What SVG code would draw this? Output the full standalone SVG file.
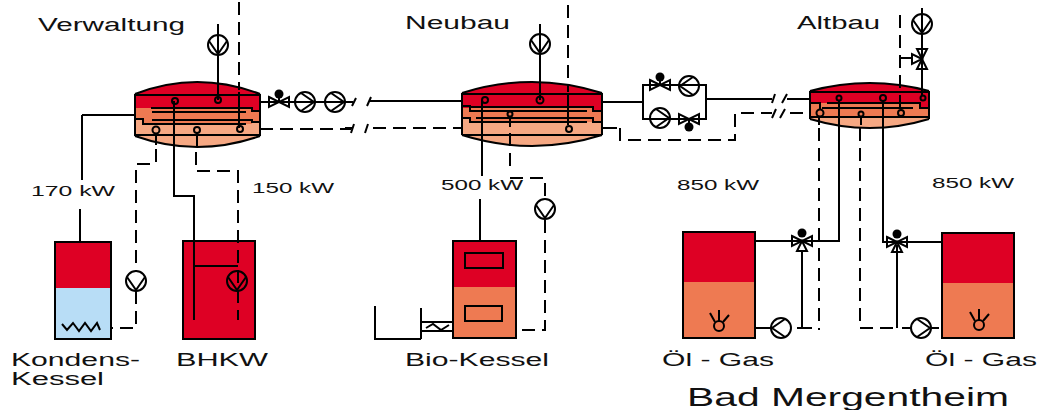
<svg xmlns="http://www.w3.org/2000/svg" xmlns:xlink="http://www.w3.org/1999/xlink" width="1044" height="410" viewBox="0 0 1044 410">
<style>
.o{fill:none;stroke:#000;stroke-width:2}
.d{fill:none;stroke:#000;stroke-width:2;stroke-dasharray:13 7}
.t{font-family:"Liberation Sans",Arial,sans-serif;fill:#111}
.red{fill:#de0024}
.mid{fill:#ee7a52}
.lt{fill:#f6a883}
.blue{fill:#b8ddf6}
.box{fill:none;stroke:#000;stroke-width:2}
</style>
<defs>
<g id="pd"><circle r="10" class="o"/><path d="M-9-4L0 9L9-4" class="o"/></g>
<g id="pr"><circle r="10" class="o"/><path d="M-4-9L9 0L-4 9" class="o"/></g>
<g id="pl"><circle r="10" class="o"/><path d="M4-9L-9 0L4 9" class="o"/></g>
<g id="vh"><path d="M-10-5L10 5V-5L-10 5Z" class="o"/><path d="M0 0V-8" class="o"/><circle cy="-8" r="4.500" fill="#000"/></g>
<g id="v3"><path d="M-10-5L10 5V-5L-10 5Z" class="o"/><path d="M0 0L-5 10H5Z" class="o"/><circle cy="-8" r="4.500" fill="#000"/></g>
<g id="fl"><circle r="5" class="o"/><path d="M0-16V-5M-9-13L-4-4M10-11L4-4" class="o"/></g>
</defs>

<g id="v1">
<path class="lt" d="M135 94Q197 70 260 94V136Q197 158 135 136Z"/>
<path class="mid" d="M135 108H252V112H260V122H252V124H143V120H135Z"/>
<path class="red" d="M135 94Q197 70 260 94V112H252V108H135Z"/>
<path class="o" d="M135 94Q197 70 260 94M135 136Q197 158 260 136M135 94V136M260 94V136"/>
<path class="o" d="M135 95H260M151 108H252V111H260M152 112H246M152 120H252V122H260M135 119H143V124H246M135 135H260"/>
<circle class="o" cx="175" cy="101" r="3"/>
<circle class="o" cx="218" cy="100" r="3"/>
<circle class="o" cx="156" cy="130" r="3.500"/>
<circle class="o" cx="197" cy="130" r="3"/>
<circle class="o" cx="240" cy="129" r="3"/>
</g>
<g id="v2">
<path class="lt" d="M462 93Q532 71 602 93V135Q532 157 462 135Z"/>
<path class="mid" d="M462 108H593V112H602V122H470V119H462Z"/>
<path class="red" d="M462 93Q532 71 602 93V112H593V108H462Z"/>
<path class="o" d="M462 93Q532 71 602 93M462 135Q532 157 602 135M462 93V135M602 93V135"/>
<path class="o" d="M462 94H602M470 107H593V111H602M462 106H470V111H587M476 118H593V122H602M462 118H470V122H587M462 135H602"/>
<circle class="o" cx="485" cy="100" r="3"/>
<circle class="o" cx="540" cy="100" r="3.500"/>
<circle class="o" cx="510" cy="114" r="2.500"/>
<circle class="o" cx="569" cy="129" r="3"/>
</g>
<g id="v3n">
<path class="lt" d="M810 91Q870 75 929 91V119Q870 137 810 119Z"/>
<path class="mid" d="M810 103H920V108H929V117H810Z"/>
<path class="red" d="M810 91Q870 75 929 91V108H920V103H810Z"/>
<path class="o" d="M810 91Q870 75 929 91M810 119Q870 137 929 119M810 91V119M929 91V119"/>
<path class="o" d="M810 92H929M827 103H920V108H929M810 103H820V110M822 108H913M810 117H929"/>
<circle class="o" cx="839" cy="98" r="2.500"/>
<circle class="o" cx="883" cy="98" r="3"/>
<circle class="o" cx="923" cy="98" r="2.500"/>
<circle class="o" cx="820" cy="113" r="3.500"/>
<circle class="o" cx="861" cy="114" r="2.500"/>
<circle class="o" cx="901" cy="113" r="3"/>
</g>

<g id="k1">
<path class="red" d="M55 242H111V288H55Z"/>
<path class="blue" d="M55 288H111V339H55Z"/>
<rect class="box" x="55" y="242" width="56" height="97"/>
<path class="o" d="M62 324L67 330L73 323L79 331L85 323L91 331L97 323L100 330"/>
</g>
<g id="bhkw">
<rect class="red" x="183" y="241" width="72" height="98"/>
<rect class="box" x="183" y="241" width="72" height="98"/>
</g>
<g id="bio">
<path class="red" d="M453 241H516V287H453Z"/>
<path class="mid" d="M453 287H516V338H453Z"/>
<rect class="box" x="453" y="241" width="63" height="97"/>
<rect class="box" x="465" y="253" width="38" height="15"/>
<rect class="box" x="465" y="306" width="37" height="15"/>
</g>
<g id="oel1">
<path class="red" d="M683 232H755V282H683Z"/>
<path class="mid" d="M683 282H755V338H683Z"/>
<rect class="box" x="683" y="232" width="72" height="106"/>
<use xlink:href="#fl" href="#fl" x="719" y="326"/>
</g>
<g id="oel2">
<path class="red" d="M942 233H1014V283H942Z"/>
<path class="mid" d="M942 283H1014V338H942Z"/>
<rect class="box" x="942" y="233" width="72" height="105"/>
<use xlink:href="#fl" href="#fl" x="979" y="325"/>
</g>

<g id="connectors">
<path class="o" d="M218 24V100M540 24V100M239 92V128M82 115H135M82 115V180M80 209V242"/>
<path class="o" d="M174 101V196H194V320M194 266H238"/>
<path class="o" d="M156 133V145M197 133V147"/>
<path class="d" d="M239 2V90M156 149V163M150 164H136V272M136 291V328H111M196 152V171H238V320M260 129H351M373 128H462"/>
<path class="o" d="M260 102H353M370 101H462M352 106L356 98M367 106L371 97M345 128H352M351 133L354 124M365 133L368 124"/>
<path class="o" d="M482 100V176M480 199V241M568 93V125M510 116V127"/>
<path class="d" d="M568 5V92M510 133V169M510 178H545V198M545 220V330H516"/>
<path class="o" d="M602 102H643M643 85V119H706V85ZM706 99H772M787 99H810M772 103L775 94M782 103L787 94"/>
<path class="o" d="M602 128H617M772 118L776 109M780 118L785 109"/>
<path class="d" d="M620 128V140H735V113H772M790 113H810"/>
<path class="o" d="M922 8V96M819 117V125M861 116V125M839 100V241H755M883 101V242H942"/>
<path class="d" d="M900 15V110M900 58H912M819 128V330M860 128V328H897M902 328H911"/>
<path class="o" d="M802 250V328M797 328H812M755 328H771M897 245V328M931 328H939"/>
<path class="o" d="M375 306V339H421M421 308V339M421 322H453M421 331H453M426 328L433 324L441 330L449 325"/>
</g>

<g id="pumps">
<use xlink:href="#pd" href="#pd" x="218" y="45"/>
<use xlink:href="#pd" href="#pd" x="540" y="44"/>
<use xlink:href="#pd" href="#pd" x="922" y="24"/>
<use xlink:href="#pr" href="#pr" x="305" y="102"/>
<use xlink:href="#pr" href="#pr" x="335" y="102"/>
<use xlink:href="#pl" href="#pl" x="689" y="86"/>
<use xlink:href="#pr" href="#pr" x="660" y="118"/>
<use xlink:href="#pd" href="#pd" x="136" y="281"/>
<use xlink:href="#pd" href="#pd" x="237" y="281"/>
<use xlink:href="#pd" href="#pd" x="545" y="209"/>
<use xlink:href="#pl" href="#pl" x="781" y="328"/>
<use xlink:href="#pr" href="#pr" x="921" y="328"/>
<use xlink:href="#vh" href="#vh" x="279" y="102"/>
<use xlink:href="#vh" href="#vh" x="660" y="85"/>
<g transform="translate(689 119) rotate(180)"><use xlink:href="#vh" href="#vh"/></g>
<use xlink:href="#v3" href="#v3" x="802" y="241"/>
<use xlink:href="#v3" href="#v3" x="897" y="242"/>
<g transform="translate(922 59) rotate(90)"><path class="o" d="M-10-5L10 5V-5L-10 5Z"/><path class="o" d="M0 0L-5 10H5Z"/></g>
</g>

<g id="labels">
<text class="t" x="38" y="31" font-size="18" textLength="147" lengthAdjust="spacingAndGlyphs">Verwaltung</text>
<text class="t" x="405" y="29" font-size="18" textLength="105" lengthAdjust="spacingAndGlyphs">Neubau</text>
<text class="t" x="797" y="29" font-size="18" textLength="83" lengthAdjust="spacingAndGlyphs">Altbau</text>
<text class="t" x="31" y="196" font-size="14" textLength="84" lengthAdjust="spacingAndGlyphs">170 kW</text>
<text class="t" x="252" y="193" font-size="14" textLength="82" lengthAdjust="spacingAndGlyphs">150 kW</text>
<text class="t" x="441" y="190" font-size="14" textLength="82" lengthAdjust="spacingAndGlyphs">500 kW</text>
<text class="t" x="677" y="190" font-size="14" textLength="82" lengthAdjust="spacingAndGlyphs">850 kW</text>
<text class="t" x="932" y="188" font-size="14" textLength="82" lengthAdjust="spacingAndGlyphs">850 kW</text>
<text class="t" x="11" y="366" font-size="18" textLength="129" lengthAdjust="spacingAndGlyphs">Kondens-</text>
<text class="t" x="11" y="385" font-size="18" textLength="93" lengthAdjust="spacingAndGlyphs">Kessel</text>
<text class="t" x="176" y="366" font-size="18" textLength="92" lengthAdjust="spacingAndGlyphs">BHKW</text>
<text class="t" x="405" y="366" font-size="18" textLength="144" lengthAdjust="spacingAndGlyphs">Bio-Kessel</text>
<text class="t" x="662" y="366" font-size="18" textLength="112" lengthAdjust="spacingAndGlyphs">Öl - Gas</text>
<text class="t" x="925" y="366" font-size="18" textLength="112" lengthAdjust="spacingAndGlyphs">Öl - Gas</text>
<text class="t" x="687" y="406" font-size="25" textLength="322" lengthAdjust="spacingAndGlyphs">Bad Mergentheim</text>
</g>
</svg>
